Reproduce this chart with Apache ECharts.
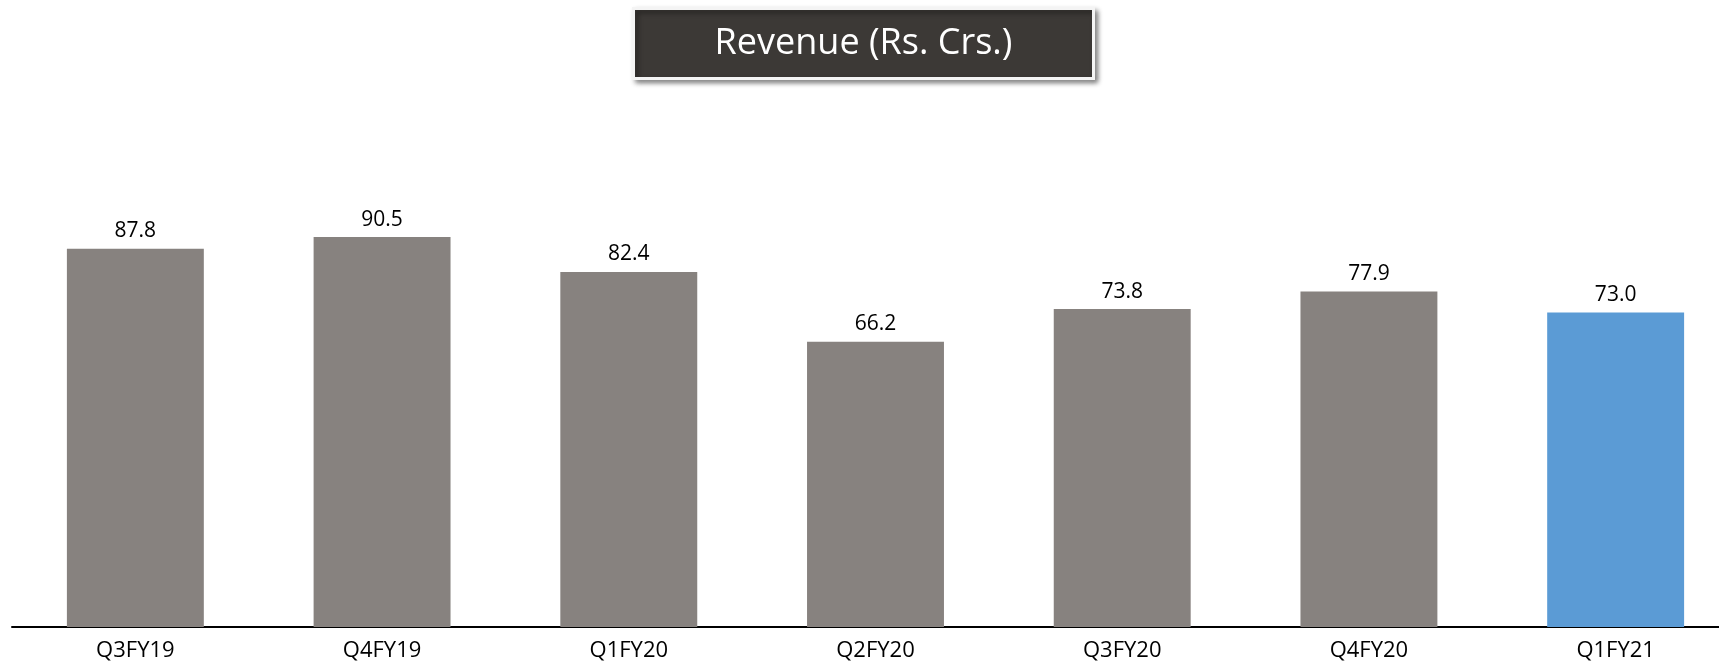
<!DOCTYPE html>
<html>
<head>
<meta charset="utf-8">
<style>
  html, body { margin: 0; padding: 0; background: #fff; overflow: hidden; }
  /* the axis runs past the right edge of the picture, so the chart is a bit wider than the window */
  #chart { width: 1739px; height: 668px; }
</style>
<script src="https://cdn.jsdelivr.net/npm/echarts@6/dist/echarts.min.js"></script>
</head>
<body>
<div id="chart"></div>
<script>
const quarters = ["Q3FY19", "Q4FY19", "Q1FY20", "Q2FY20", "Q3FY20", "Q4FY20", "Q1FY21"];
const revenue = [87.8, 90.5, 82.4, 66.2, 73.8, 77.9, 73.0];
const greyBar = "#87827f";
const blueBar = "#5b9bd5";

const chart = echarts.init(document.getElementById("chart"));

const option = {
  backgroundColor: "#fff",
  animation: false,
  graphic: [
    {
      type: "group",
      left: 632,
      top: 7,
      children: [
        {
          type: "rect",
          shape: { x: 0, y: 0, width: 460, height: 70 },
          style: {
            fill: "#3c3936",
            stroke: "#f4f4f4",
            lineWidth: 3,
            shadowBlur: 5,
            shadowOffsetX: 3,
            shadowOffsetY: 3,
            shadowColor: "rgba(0,0,0,0.45)"
          }
        },
        {
          type: "text",
          style: {
            x: 230,
            y: 35,
            text: "Revenue (Rs. Crs.)",
            fill: "#fff",
            font: "36px 'Open Sans'",
            textAlign: "center",
            textVerticalAlign: "middle"
          }
        }
      ]
    }
  ],
  grid: { left: 12, top: 110, right: 0, bottom: 41 },
  xAxis: {
    type: "category",
    data: quarters,
    axisLine: { lineStyle: { color: "#000", width: 2 } },
    axisTick: { show: false },
    axisLabel: {
      color: "#000",
      fontFamily: "Open Sans",
      fontSize: 22,
      margin: 13
    }
  },
  yAxis: {
    type: "value",
    min: 0,
    max: 120,
    show: false,
    splitLine: { show: false }
  },
  series: [
    {
      type: "bar",
      data: revenue.map((v, i) => ({
        value: v,
        itemStyle: { color: i === revenue.length - 1 ? blueBar : greyBar }
      })),
      barCategoryGap: "44.5%",
      label: {
        show: true,
        position: "top",
        distance: 7,
        color: "#000",
        fontFamily: "Open Sans",
        fontSize: 21,
        formatter: (p) => p.value.toFixed(1)
      }
    }
  ]
};

chart.setOption(option);
</script>
</body>
</html>
